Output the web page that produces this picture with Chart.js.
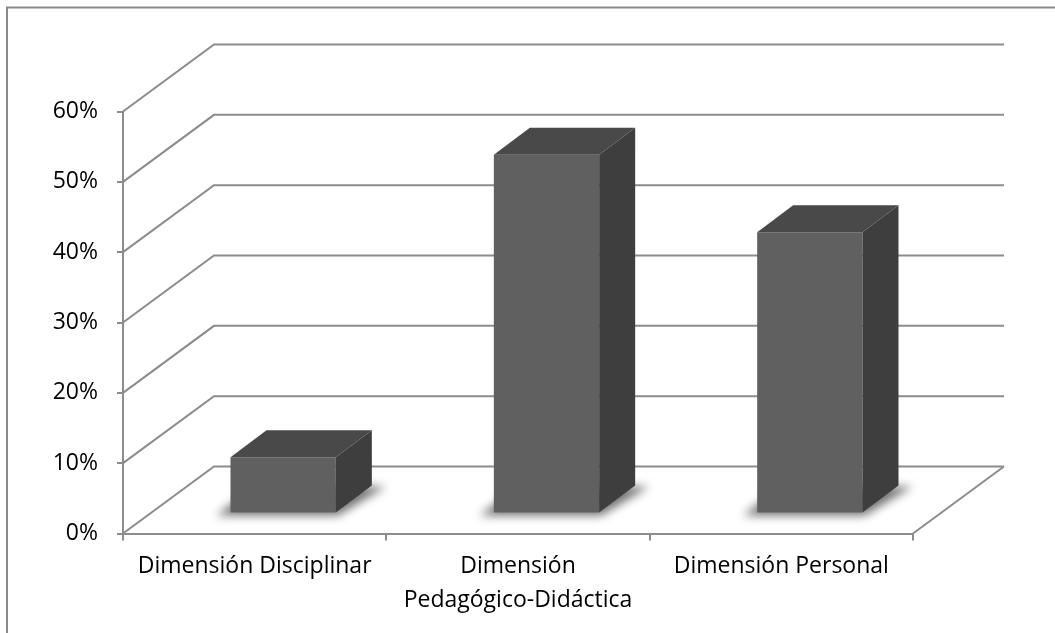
<!DOCTYPE html>
<html>
<head>
<meta charset="utf-8">
<script src="https://cdn.jsdelivr.net/npm/chart.js@4/dist/chart.umd.min.js"></script>
<style>
  html, body { margin: 0; padding: 0; background: #ffffff; }
  #wrap { position: relative; width: 1055px; height: 633px; }
  canvas { display: block; }
</style>
</head>
<body>
<div id="wrap"><canvas id="chart" width="1055" height="633"></canvas></div>
<script>
// Categories (multi-line label as an array of lines)
const categories = [
  'Dimensión Disciplinar',
  ['Dimensión', 'Pedagógico-Didáctica'],
  'Dimensión Personal'
];
// Share per dimension, in percent
const shares = [8, 51, 40];
// Value-axis ticks, in percent
const yTickValues = [0, 10, 20, 30, 40, 50, 60];

// Oblique projection: back wall offset, bar front-face offset, bar depth
const WALL = { dx: 91, dy: -67 };
const SHIFT = { dx: 28.5, dy: -20 };
const DEPTH = { dx: 36, dy: -27 };
const LINE = '#8c8c8c';
const FRONT = '#606060';
const TOP = '#494949';
const SIDE = '#3e3e3e';

const depthPlugin = {
  id: 'depth3d',
  beforeDraw(chart) {
    const ctx = chart.ctx;
    ctx.save();
    ctx.strokeStyle = '#898989';
    ctx.lineWidth = 2;
    ctx.beginPath();
    ctx.moveTo(7, 700);
    ctx.lineTo(7, 7.5);
    ctx.lineTo(1100, 7.5);
    ctx.stroke();
    ctx.restore();
  },
  beforeDatasetsDraw(chart) {
    const ctx = chart.ctx;
    const ys = chart.scales.y;
    const area = chart.chartArea;
    ctx.save();
    ctx.strokeStyle = LINE;
    ctx.lineWidth = 2;
    ctx.lineJoin = 'miter';
    // gridlines folding from the front axis onto the back wall
    ys.ticks.forEach(t => {
      const py = ys.getPixelForValue(t.value);
      ctx.beginPath();
      ctx.moveTo(area.left, py);
      ctx.lineTo(area.left + WALL.dx, py + WALL.dy);
      ctx.lineTo(area.right + WALL.dx, py + WALL.dy);
      ctx.stroke();
    });
    // right edge of the floor
    const p0 = ys.getPixelForValue(0);
    ctx.beginPath();
    ctx.moveTo(area.right, p0);
    ctx.lineTo(area.right + WALL.dx, p0 + WALL.dy);
    ctx.stroke();
    ctx.restore();

    // soft floor shadows under each bar
    const meta = chart.getDatasetMeta(0);
    ctx.save();
    ctx.filter = 'blur(5px)';
    ctx.fillStyle = 'rgba(0,0,0,0.55)';
    meta.data.forEach(el => {
      const p = el.getProps(['x', 'base', 'width'], true);
      const l = p.x - p.width / 2 + SHIFT.dx;
      const r = p.x + p.width / 2 + SHIFT.dx;
      const b = p.base + SHIFT.dy;
      ctx.beginPath();
      ctx.moveTo(l - 14, b + 3);
      ctx.lineTo(r + 2, b + 3);
      ctx.lineTo(r + DEPTH.dx + 14, b + DEPTH.dy + 1);
      ctx.lineTo(l + DEPTH.dx - 12, b + DEPTH.dy + 1);
      ctx.closePath();
      ctx.fill();
    });
    ctx.restore();
  },
  beforeDatasetDraw(chart) {
    chart.ctx.save();
    chart.ctx.translate(SHIFT.dx, SHIFT.dy);
  },
  afterDatasetDraw(chart, args) {
    const ctx = chart.ctx;
    const meta = chart.getDatasetMeta(args.index);
    meta.data.forEach(el => {
      const p = el.getProps(['x', 'y', 'base', 'width'], true);
      const l = p.x - p.width / 2;
      const r = p.x + p.width / 2;
      const t = p.y;
      const b = p.base;
      // top face
      ctx.fillStyle = TOP;
      ctx.beginPath();
      ctx.moveTo(l, t);
      ctx.lineTo(l + DEPTH.dx, t + DEPTH.dy);
      ctx.lineTo(r + DEPTH.dx, t + DEPTH.dy);
      ctx.lineTo(r, t);
      ctx.closePath();
      ctx.fill();
      // side face
      ctx.fillStyle = SIDE;
      ctx.beginPath();
      ctx.moveTo(r, t);
      ctx.lineTo(r + DEPTH.dx, t + DEPTH.dy);
      ctx.lineTo(r + DEPTH.dx, b + DEPTH.dy);
      ctx.lineTo(r, b);
      ctx.closePath();
      ctx.fill();
    });
    ctx.restore();
  }
};

const FONT = { family: "'Open Sans', sans-serif", size: 23 };

new Chart(document.getElementById('chart'), {
  type: 'bar',
  data: {
    labels: categories,
    datasets: [{
      data: shares,
      backgroundColor: FRONT,
      borderWidth: 0,
      categoryPercentage: 1,
      barPercentage: 0.4
    }]
  },
  options: {
    responsive: false,
    animation: false,
    devicePixelRatio: 1,
    layout: { padding: { top: 111.5, right: 142, bottom: 0, left: 0 } },
    plugins: { legend: { display: false }, tooltip: { enabled: false } },
    scales: {
      x: {
        offset: true,
        grid: { drawOnChartArea: false, tickLength: 7, color: LINE, lineWidth: 2, offset: true },
        border: { color: LINE, width: 2 },
        ticks: { color: '#000000', font: { ...FONT, lineHeight: '34px' }, padding: 9, maxRotation: 0, autoSkip: false },
        afterFit(s) { s.height = 633 - 533.5; }
      },
      y: {
        min: 0,
        max: 60,
        afterBuildTicks(s) { s.ticks = yTickValues.map(v => ({ value: v })); },
        grid: { drawOnChartArea: false, tickLength: 6, color: LINE, lineWidth: 2 },
        border: { color: LINE, width: 2 },
        ticks: { color: '#000000', font: FONT, padding: 19, callback: v => v + '%' },
        afterFit(s) { s.width = 123; }
      }
    }
  },
  plugins: [depthPlugin]
});
</script>
</body>
</html>
